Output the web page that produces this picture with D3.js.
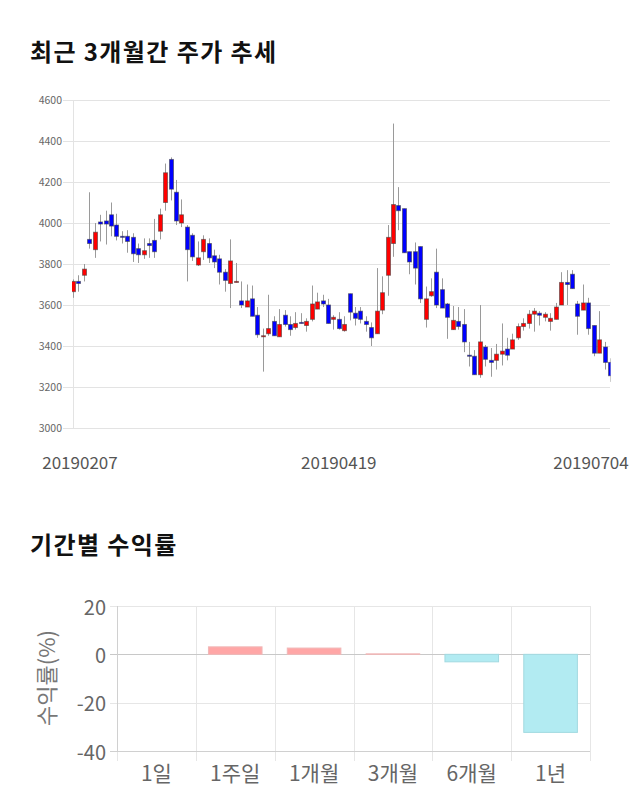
<!DOCTYPE html>
<html><head><meta charset="utf-8">
<script src="https://cdn.jsdelivr.net/npm/d3@7"></script>
<style>body{margin:0;background:#fff;} svg{display:block;}</style>
</head><body>
<svg id="c" width="640" height="810"></svg>
<script>
// ---------- data ----------
const opens  = [3665,3715,3745,3920,3870,4005,4010,4040,3990,3935,3935,3930,3875,3845,3900,3915,3960,4100,4310,4150,
                4000,3980,3940,3795,3860,3900,3840,3825,3760,3705,3710,3620,3590,3630,3550,3445,3460,3520,3445,3550,
                3505,3490,3515,3500,3530,3580,3620,3600,3530,3530,3475,3655,3560,3570,3520,3490,3460,3575,3745,3900,
                4085,4070,3860,3860,3885,3530,3645,3760,3675,3605,3480,3520,3505,3355,3350,3260,3395,3330,3330,3360,
                3385,3385,3440,3495,3510,3555,3560,3540,3520,3530,3600,3710,3750,3605,3575,3610,3500,3365,3395,3320];
const highs  = [3725,3745,3800,4150,4000,4040,4060,4100,4045,3960,3965,3950,3900,3925,3925,4020,4070,4290,4320,4210,
                4115,3990,3950,3910,3940,3925,3870,3845,3775,3920,3805,3715,3700,3695,3590,3485,3650,3545,3580,3575,
                3545,3565,3560,3535,3695,3660,3650,3630,3550,3565,3545,3655,3590,3590,3545,3515,3780,3740,3990,4485,
                4175,4070,3860,3905,3885,3690,3730,3875,3730,3610,3595,3590,3580,3420,3380,3600,3405,3390,3410,3510,
                3440,3460,3510,3535,3575,3585,3570,3565,3560,3610,3760,3770,3770,3620,3700,3635,3500,3570,3420,3340];
const lows   = [3635,3665,3715,3875,3830,3910,3895,3935,3915,3900,3855,3810,3805,3825,3830,3830,3920,4060,4110,3990,
                3980,3715,3815,3790,3820,3805,3780,3700,3665,3585,3710,3585,3590,3545,3440,3275,3450,3450,3445,3495,
                3450,3480,3510,3470,3520,3580,3590,3510,3480,3480,3470,3525,3500,3510,3470,3400,3460,3555,3645,3835,
                3965,3855,3750,3700,3610,3490,3640,3585,3585,3435,3480,3480,3370,3300,3260,3245,3300,3250,3285,3305,
                3330,3385,3430,3475,3485,3470,3500,3520,3475,3530,3600,3600,3680,3455,3575,3455,3350,3365,3285,3225];
const closes = [3715,3705,3775,3900,3955,3995,3995,3985,3935,3930,3910,3850,3845,3865,3890,3860,4040,4245,4165,4010,
                4040,3870,3835,3830,3920,3830,3810,3760,3720,3815,3715,3600,3620,3545,3455,3450,3485,3450,3505,3505,
                3480,3510,3510,3520,3605,3615,3605,3510,3540,3485,3505,3565,3535,3530,3505,3440,3570,3660,3930,4090,
                4060,3855,3810,3780,3630,3630,3665,3600,3585,3540,3525,3495,3420,3350,3260,3420,3335,3320,3360,3375,
                3355,3430,3495,3510,3555,3570,3550,3555,3535,3590,3710,3700,3680,3545,3610,3485,3365,3430,3320,3255];
const priceTicks = [3000,3200,3400,3600,3800,4000,4200,4400,4600];
const dateLabels = ["20190207","20190419","20190704"];
const dateLabelIndex = [0, 49, 99];

const periods = ["1일","1주일","1개월","3개월","6개월","1년"];
const returns = [0, 3.1, 2.6, 0.2, -3.1, -32.3];
const returnTicks = [20, 0, -20, -40];

// ---------- drawing ----------
const svg = d3.select("#c");
const FONT = "'Noto Sans CJK KR', 'Noto Sans', sans-serif";

svg.append("text").attr("x", 30).attr("y", 50).attr("dominant-baseline", "central")
  .attr("font-family", FONT).attr("font-size", 24).attr("font-weight", "bold").attr("fill", "#111")
  .attr("letter-spacing", 1.4)
  .text("최근 3개월간 주가 추세");

// candle chart
const n = opens.length;
const x = d3.scalePoint().domain(d3.range(n)).range([73, 610]);
const y = d3.scaleLinear().domain([3000, 4600]).range([428, 100]);

const g1 = svg.append("g");
g1.selectAll("line.grid").data(priceTicks).join("line")
  .attr("x1", 63).attr("x2", 610)
  .attr("y1", d => Math.round(y(d)) + 0.5).attr("y2", d => Math.round(y(d)) + 0.5)
  .attr("stroke", "#e3e3e3");
g1.append("line").attr("x1", 73.5).attr("x2", 73.5).attr("y1", y(4600)).attr("y2", y(3000)).attr("stroke", "#e3e3e3");
g1.selectAll("text.yt").data(priceTicks).join("text")
  .attr("x", 62).attr("y", d => y(d) - 1).attr("text-anchor", "end").attr("dominant-baseline", "central")
  .attr("font-family", FONT).attr("font-size", 10.5).attr("fill", "#666").text(d => d);

svg.append("clipPath").attr("id", "clip").append("rect")
  .attr("x", 72).attr("y", 90).attr("width", 538.5).attr("height", 345);
const cg = svg.append("g").attr("clip-path", "url(#clip)");
const idx = d3.range(n);
cg.selectAll("line.wick").data(idx).join("line")
  .attr("x1", i => Math.round(x(i)) + 0.5).attr("x2", i => Math.round(x(i)) + 0.5)
  .attr("y1", i => y(highs[i])).attr("y2", i => y(lows[i]))
  .attr("stroke", "#9a9a9a").attr("stroke-width", 1);
cg.selectAll("rect.body").data(idx).join("rect")
  .attr("x", i => Math.round(x(i)) - 1.5).attr("width", 4)
  .attr("y", i => y(Math.max(opens[i], closes[i])))
  .attr("height", i => Math.max(1, Math.abs(y(opens[i]) - y(closes[i]))))
  .attr("fill", i => closes[i] >= opens[i] ? "#ff0000" : "#0000ff")
  .attr("stroke", "rgba(60,60,60,0.55)").attr("stroke-width", 1);

g1.selectAll("text.xt").data(dateLabels).join("text")
  .attr("x", (d, k) => Math.max(80, Math.min(591, x(dateLabelIndex[k]))))
  .attr("y", 461).attr("text-anchor", "middle").attr("dominant-baseline", "central")
  .attr("font-family", FONT).attr("font-size", 17).attr("fill", "#555").text(d => d);

// returns chart
svg.append("text").attr("x", 30).attr("y", 543).attr("dominant-baseline", "central")
  .attr("font-family", FONT).attr("font-size", 24).attr("font-weight", "bold").attr("fill", "#111")
  .attr("letter-spacing", 1.4)
  .text("기간별 수익률");

const xb = d3.scaleBand().domain(periods).range([117, 590]).paddingInner(0.32).paddingOuter(0.16);
const yb = d3.scaleLinear().domain([-40, 20]).range([751, 606]);
const g2 = svg.append("g");
const bounds = d3.range(periods.length + 1).map(k => 117 + k * (473 / periods.length));
g2.selectAll("line.vg").data(bounds).join("line")
  .attr("x1", d => Math.round(d) + 0.5).attr("x2", d => Math.round(d) + 0.5)
  .attr("y1", 606).attr("y2", 761).attr("stroke", "#e6e6e6");
g2.selectAll("line.hg").data(returnTicks).join("line")
  .attr("x1", 110).attr("x2", 590)
  .attr("y1", d => Math.round(yb(d)) + 0.5).attr("y2", d => Math.round(yb(d)) + 0.5)
  .attr("stroke", d => d === 0 ? "#c8c8c8" : "#e6e6e6");
g2.append("line").attr("x1", 117.5).attr("x2", 117.5).attr("y1", 606).attr("y2", 751).attr("stroke", "#d0d0d0");
g2.append("line").attr("x1", 110).attr("x2", 590).attr("y1", 751.5).attr("y2", 751.5).attr("stroke", "#d0d0d0");

g2.selectAll("rect.bar").data(periods).join("rect")
  .attr("x", p => xb(p)).attr("width", xb.bandwidth())
  .attr("y", (p, k) => yb(Math.max(0, returns[k])))
  .attr("height", (p, k) => Math.abs(yb(returns[k]) - yb(0)))
  .attr("fill", (p, k) => returns[k] >= 0 ? "#ffa6a6" : "#b2ebf2")
  .attr("stroke", (p, k) => returns[k] >= 0 ? "#f0b8b8" : "#a2d9e0").attr("stroke-width", 1);

g2.selectAll("text.yt").data(returnTicks).join("text")
  .attr("x", 106).attr("y", d => yb(d)).attr("text-anchor", "end").attr("dominant-baseline", "central")
  .attr("font-family", FONT).attr("font-size", 20).attr("fill", "#666").text(d => d);
g2.selectAll("text.xt").data(periods).join("text")
  .attr("x", p => xb(p) + xb.bandwidth() / 2).attr("y", 772).attr("text-anchor", "middle")
  .attr("dominant-baseline", "central")
  .attr("font-family", FONT).attr("font-size", 21).attr("fill", "#666").text(p => p);
svg.append("text").attr("transform", "translate(45,678) rotate(-90)")
  .attr("text-anchor", "middle").attr("dominant-baseline", "central")
  .attr("font-family", FONT).attr("font-size", 22).attr("fill", "#777").text("수익률(%)");
</script>
</body></html>
